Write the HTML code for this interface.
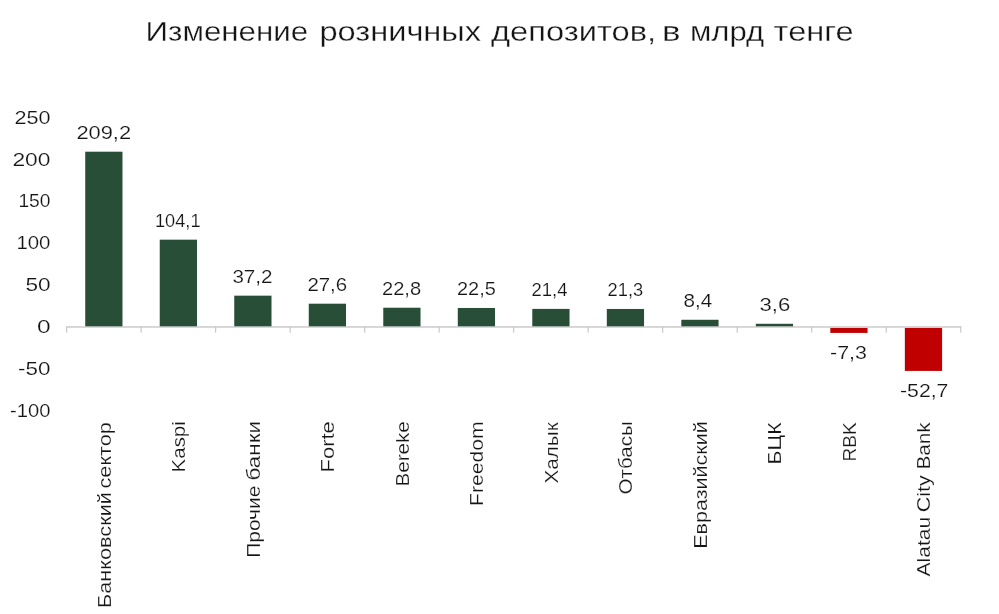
<!DOCTYPE html>
<html lang="ru"><head><meta charset="utf-8"><title>Изменение розничных депозитов</title>
<style>html,body{margin:0;padding:0;background:#fff}svg{display:block}text{font-family:"Liberation Sans",sans-serif;fill:#141414;stroke:#fff;stroke-width:.18px}.tt{stroke-width:.3px}</style></head><body>
<svg width="999" height="614" viewBox="0 0 999 614">
<rect width="999" height="614" fill="#fff"/>
<g fill="#c9c9c9">
<rect x="66.1" y="326.25" width="895.1" height="1.45"/>
<rect x="66.00" y="326.25" width="1.2" height="6.4"/>
<rect x="140.51" y="326.25" width="1.2" height="6.4"/>
<rect x="215.02" y="326.25" width="1.2" height="6.4"/>
<rect x="289.53" y="326.25" width="1.2" height="6.4"/>
<rect x="364.04" y="326.25" width="1.2" height="6.4"/>
<rect x="438.55" y="326.25" width="1.2" height="6.4"/>
<rect x="513.06" y="326.25" width="1.2" height="6.4"/>
<rect x="587.57" y="326.25" width="1.2" height="6.4"/>
<rect x="662.08" y="326.25" width="1.2" height="6.4"/>
<rect x="736.59" y="326.25" width="1.2" height="6.4"/>
<rect x="811.10" y="326.25" width="1.2" height="6.4"/>
<rect x="885.61" y="326.25" width="1.2" height="6.4"/>
<rect x="960.12" y="326.25" width="1.2" height="6.4"/>
</g>
<rect x="85.23" y="151.70" width="37.25" height="174.60" fill="#294e38"/>
<rect x="159.74" y="239.67" width="37.25" height="86.63" fill="#294e38"/>
<rect x="234.25" y="295.66" width="37.25" height="30.64" fill="#294e38"/>
<rect x="308.76" y="303.70" width="37.25" height="22.60" fill="#294e38"/>
<rect x="383.27" y="307.72" width="37.25" height="18.58" fill="#294e38"/>
<rect x="457.78" y="307.97" width="37.25" height="18.33" fill="#294e38"/>
<rect x="532.29" y="308.89" width="37.25" height="17.41" fill="#294e38"/>
<rect x="606.80" y="308.97" width="37.25" height="17.33" fill="#294e38"/>
<rect x="681.31" y="319.77" width="37.25" height="6.53" fill="#294e38"/>
<rect x="755.82" y="323.79" width="37.25" height="2.51" fill="#294e38"/>
<rect x="830.33" y="327.95" width="37.25" height="4.96" fill="#c00000"/>
<rect x="904.84" y="327.95" width="37.25" height="42.96" fill="#c00000"/>
<text class="tt" x="145.60" y="41.40" font-size="27.6" textLength="162.55" lengthAdjust="spacingAndGlyphs">Изменение</text>
<text class="tt" x="319.40" y="41.40" font-size="27.6" textLength="161.68" lengthAdjust="spacingAndGlyphs">розничных</text>
<text class="tt" x="491.00" y="41.40" font-size="27.6" textLength="165.10" lengthAdjust="spacingAndGlyphs">депозитов,</text>
<text class="tt" x="662.00" y="41.40" font-size="27.6" textLength="18.54" lengthAdjust="spacingAndGlyphs">в</text>
<text class="tt" x="690.00" y="41.40" font-size="27.6" textLength="74.13" lengthAdjust="spacingAndGlyphs">млрд</text>
<text class="tt" x="773.60" y="41.40" font-size="27.6" textLength="79.92" lengthAdjust="spacingAndGlyphs">тенге</text>
<text x="76.40" y="138.80" font-size="18.5" textLength="54.72" lengthAdjust="spacingAndGlyphs">209,2</text>
<text x="155.00" y="226.77" font-size="18.5" textLength="45.49" lengthAdjust="spacingAndGlyphs">104,1</text>
<text x="232.40" y="282.76" font-size="18.5" textLength="40.14" lengthAdjust="spacingAndGlyphs">37,2</text>
<text x="307.40" y="290.80" font-size="18.5" textLength="39.78" lengthAdjust="spacingAndGlyphs">27,6</text>
<text x="382.00" y="294.82" font-size="18.5" textLength="39.11" lengthAdjust="spacingAndGlyphs">22,8</text>
<text x="457.00" y="295.07" font-size="18.5" textLength="38.78" lengthAdjust="spacingAndGlyphs">22,5</text>
<text x="531.60" y="295.99" font-size="18.5" textLength="35.87" lengthAdjust="spacingAndGlyphs">21,4</text>
<text x="607.60" y="296.07" font-size="18.5" textLength="35.52" lengthAdjust="spacingAndGlyphs">21,3</text>
<text x="683.60" y="306.87" font-size="18.5" textLength="28.68" lengthAdjust="spacingAndGlyphs">8,4</text>
<text x="759.50" y="310.89" font-size="18.5" textLength="30.73" lengthAdjust="spacingAndGlyphs">3,6</text>
<text x="830.00" y="358.91" font-size="18.5" textLength="36.89" lengthAdjust="spacingAndGlyphs">-7,3</text>
<text x="900.00" y="396.91" font-size="18.5" textLength="48.43" lengthAdjust="spacingAndGlyphs">-52,7</text>
<text x="14.40" y="123.70" font-size="18.5" textLength="36.10" lengthAdjust="spacingAndGlyphs">250</text>
<text x="12.40" y="165.55" font-size="18.5" textLength="38.08" lengthAdjust="spacingAndGlyphs">200</text>
<text x="18.40" y="207.40" font-size="18.5" textLength="32.09" lengthAdjust="spacingAndGlyphs">150</text>
<text x="16.40" y="249.25" font-size="18.5" textLength="34.07" lengthAdjust="spacingAndGlyphs">100</text>
<text x="25.40" y="291.10" font-size="18.5" textLength="25.15" lengthAdjust="spacingAndGlyphs">50</text>
<text x="37.00" y="332.95" font-size="18.5" textLength="13.65" lengthAdjust="spacingAndGlyphs">0</text>
<text x="18.00" y="374.80" font-size="18.5" textLength="32.42" lengthAdjust="spacingAndGlyphs">-50</text>
<text x="10.00" y="416.65" font-size="18.5" textLength="40.39" lengthAdjust="spacingAndGlyphs">-100</text>
<text transform="translate(110.75,488.50) rotate(-90)" font-size="18.5" textLength="66.40" lengthAdjust="spacingAndGlyphs">сектор</text>
<text transform="translate(110.75,608.00) rotate(-90)" font-size="18.5" textLength="115.91" lengthAdjust="spacingAndGlyphs">Банковский</text>
<text transform="translate(185.27,472.40) rotate(-90)" font-size="18.5" textLength="51.20" lengthAdjust="spacingAndGlyphs">Kaspi</text>
<text transform="translate(259.77,480.50) rotate(-90)" font-size="18.5" textLength="59.55" lengthAdjust="spacingAndGlyphs">банки</text>
<text transform="translate(259.77,557.80) rotate(-90)" font-size="18.5" textLength="72.21" lengthAdjust="spacingAndGlyphs">Прочие</text>
<text transform="translate(334.28,472.40) rotate(-90)" font-size="18.5" textLength="51.24" lengthAdjust="spacingAndGlyphs">Forte</text>
<text transform="translate(408.79,486.40) rotate(-90)" font-size="18.5" textLength="65.17" lengthAdjust="spacingAndGlyphs">Bereke</text>
<text transform="translate(483.30,505.90) rotate(-90)" font-size="18.5" textLength="84.65" lengthAdjust="spacingAndGlyphs">Freedom</text>
<text transform="translate(557.82,483.40) rotate(-90)" font-size="18.5" textLength="61.09" lengthAdjust="spacingAndGlyphs">Халык</text>
<text transform="translate(632.33,494.40) rotate(-90)" font-size="18.5" textLength="73.13" lengthAdjust="spacingAndGlyphs">Отбасы</text>
<text transform="translate(706.84,548.80) rotate(-90)" font-size="18.5" textLength="127.49" lengthAdjust="spacingAndGlyphs">Евразийский</text>
<text transform="translate(781.35,464.40) rotate(-90)" font-size="18.5" textLength="42.13" lengthAdjust="spacingAndGlyphs">БЦК</text>
<text transform="translate(855.86,461.40) rotate(-90)" font-size="18.5" textLength="39.17" lengthAdjust="spacingAndGlyphs">RBK</text>
<text transform="translate(930.37,469.60) rotate(-90)" font-size="18.5" textLength="47.35" lengthAdjust="spacingAndGlyphs">Bank</text>
<text transform="translate(930.37,512.30) rotate(-90)" font-size="18.5" textLength="37.21" lengthAdjust="spacingAndGlyphs">City</text>
<text transform="translate(930.37,576.60) rotate(-90)" font-size="18.5" textLength="59.98" lengthAdjust="spacingAndGlyphs">Alatau</text>
</svg></body></html>
